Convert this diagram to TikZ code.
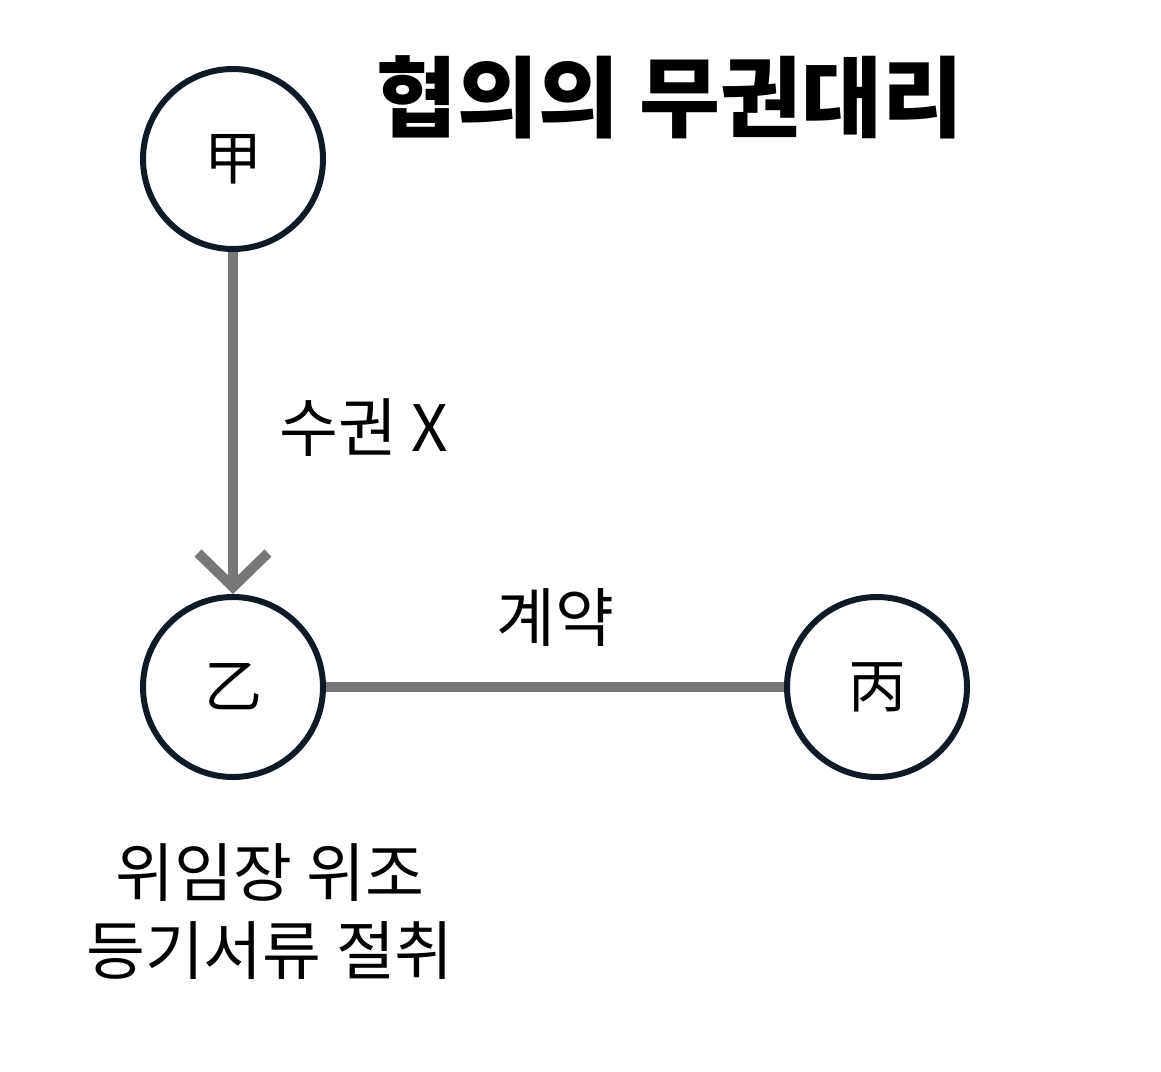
\documentclass[tikz,border=0pt]{standalone}
\usepackage{fontspec}
\setmainfont{Noto Sans CJK KR}
\usetikzlibrary{arrows.meta}
\definecolor{partyNavy}{RGB}{14,26,38}
\definecolor{linkGray}{RGB}{119,119,119}

\begin{document}
\begin{tikzpicture}[x=1pt,y=-1pt,
    party/.style={circle, draw=partyNavy, line width=6pt, minimum size=180pt,
      inner sep=0pt, font=\fontsize{58}{60}\selectfont},
    link/.style={linkGray, line width=10pt},
    lbl/.style={font=\fontsize{64}{78}\selectfont, align=center}]
  \useasboundingbox (0,0) rectangle (1161,1071);
  \node[font=\fontsize{88}{90}\selectfont\bfseries] (title) at (670,97) {협의의 무권대리};
  \node[party] (gap) at (233,159) {甲};
  \node[party] (eul) at (233,687) {乙};
  \node[party] (byeong) at (877,687) {丙};
  \draw[link, -{Straight Barb[length=34pt, width=70pt, line join=miter]}] (gap) -- (eul);
  \draw[link] (eul) -- (byeong);
  \node[lbl] (sugwon) at (364,428) {수권 X};
  \node[lbl] (gyeyak) at (555,618) {계약};
  \node[lbl] (wijo) at (270,912) {위임장 위조\\등기서류 절취};
\end{tikzpicture}
\end{document}
